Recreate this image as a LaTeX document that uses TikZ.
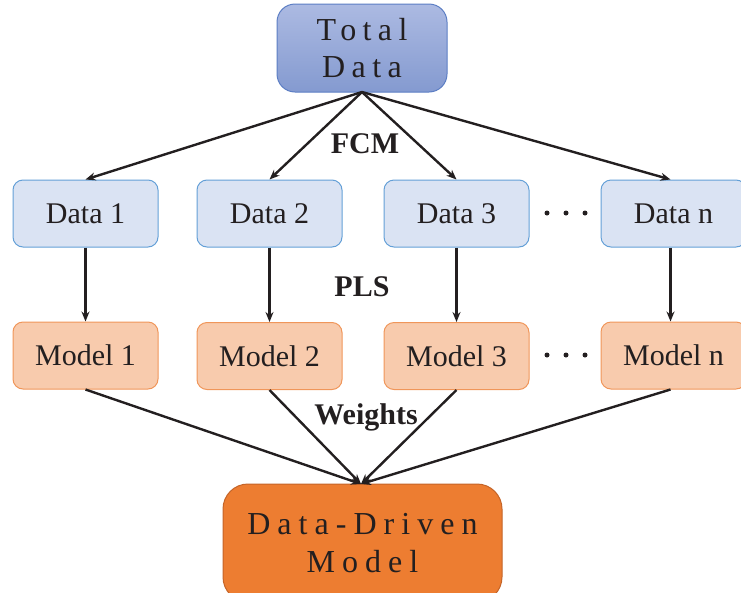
\documentclass[tikz,border=0pt]{standalone}
\usepackage{fontspec}
\setmainfont{Liberation Serif}
\usetikzlibrary{arrows.meta}
\definecolor{ink}{RGB}{35,31,32}
\definecolor{topA}{RGB}{172,186,226}
\definecolor{topB}{RGB}{132,154,208}
\definecolor{topLine}{RGB}{92,126,196}
\definecolor{dataFill}{RGB}{218,227,243}
\definecolor{dataLine}{RGB}{100,160,215}
\definecolor{modelFill}{RGB}{248,203,173}
\definecolor{modelLine}{RGB}{240,150,90}
\definecolor{finalFill}{RGB}{237,125,49}
\definecolor{finalLine}{RGB}{196,100,40}
\tikzset{
  x=1pt, y=-1pt,
  databox/.style={draw=dataLine, line width=1pt, fill=dataFill, rounded corners=10pt,
    minimum width=145pt, minimum height=67pt, inner sep=0pt, text=ink,
    font=\fontsize{30}{36}\selectfont},
  modelbox/.style={draw=modelLine, line width=1pt, fill=modelFill, rounded corners=10pt,
    minimum width=145pt, minimum height=67pt, inner sep=0pt, text=ink,
    font=\fontsize{30}{36}\selectfont},
  flow/.style={draw=ink, line width=2.4pt, -{Stealth[length=10pt,width=8pt]}},
  steplabel/.style={text=ink, font=\fontsize{30}{36}\selectfont\bfseries},
  dotmark/.style={fill=ink, circle, inner sep=0pt, minimum size=5pt}
}
\begin{document}
\begin{tikzpicture}
\useasboundingbox (0,0) rectangle (741,592);

% source box
\node[draw=topLine, line width=1pt, top color=topA, bottom color=topB, rounded corners=18pt,
      minimum width=170pt, minimum height=88pt, inner sep=0pt, text=ink, align=center,
      font=\fontsize{32}{37}\selectfont\addfontfeature{LetterSpace=20}]
  (total) at (362,48) {Total\\Data};

% data partitions
\node[databox] (d1) at (85.5,213.5) {Data 1};
\node[databox] (d2) at (269.5,213.5) {Data 2};
\node[databox] (d3) at (456.5,213.5) {Data 3};
\node[databox] (dn) at (673.5,213.5) {Data n};
\foreach \i/\x in {1/547,2/566,3/585}
  \node[dotmark] (dd\i) at (\x,213) {};

% sub-models
\node[modelbox] (m1) at (85.5,355.5) {Model 1};
\node[modelbox] (m2) at (269.5,356) {Model 2};
\node[modelbox] (m3) at (456.5,356) {Model 3};
\node[modelbox] (mn) at (673.5,355.5) {Model n};
\foreach \i/\x in {1/547,2/566,3/585}
  \node[dotmark] (md\i) at (\x,355) {};

% fused model
\node[draw=finalLine, line width=1pt, fill=finalFill, rounded corners=25pt,
      minimum width=279pt, minimum height=118pt, inner sep=0pt, text=ink, align=center,
      font=\fontsize{32}{38}\selectfont\addfontfeature{LetterSpace=22}]
  (final) at (362.5,543) {Data-Driven\\Model};

% step labels
\node[steplabel] (fcm) at (365,144) {FCM};
\node[steplabel] (pls) at (362,287) {PLS};
\node[steplabel] (wts) at (366,417) {Weights};

% connectors
\coordinate (src) at (362,92);
\coordinate (dst) at (361,484);
\draw[flow] (src) -- (d1.north);
\draw[flow] (src) -- (d2.north);
\draw[flow] (src) -- (d3.north);
\draw[flow] (src) -- ([xshift=-3pt]dn.north);
\draw[flow] (d1) -- (m1);
\draw[flow] (d2) -- (m2);
\draw[flow] (d3) -- (m3);
\draw[flow] ([xshift=-3pt]dn.south) -- ([xshift=-3pt]mn.north);
\draw[flow] (m1.south) -- (dst);
\draw[flow] (m2.south) -- (dst);
\draw[flow] (m3.south) -- (dst);
\draw[flow] ([xshift=-3pt]mn.south) -- (dst);
\end{tikzpicture}
\end{document}
